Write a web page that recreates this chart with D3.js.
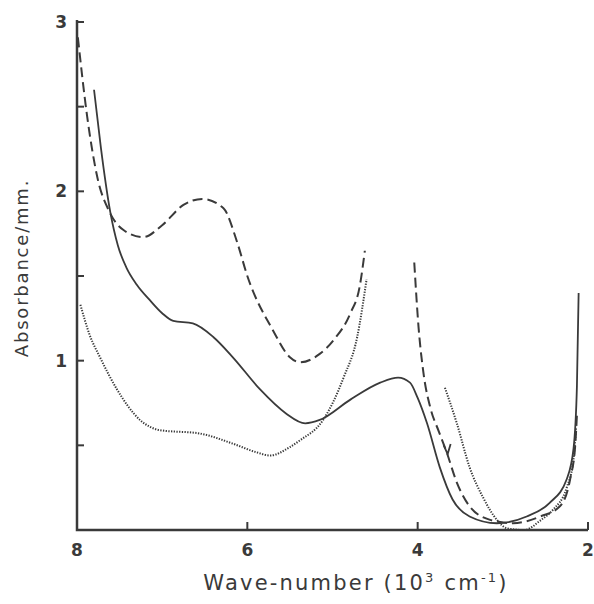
<!DOCTYPE html>
<html>
<head>
<meta charset="utf-8">
<script src="https://cdn.jsdelivr.net/npm/d3@7"></script>
<style>
  body { margin: 0; background: #fff; }
  text { font-family: "DejaVu Sans", sans-serif; fill: #3a3a3a; }
</style>
</head>
<body>
<div id="chart"></div>
<script>
// wave-number (10^3 cm^-1), absorbance/mm
const solid = [
  [7.80, 2.60], [7.72, 2.26], [7.61, 1.88], [7.52, 1.68], [7.42, 1.55], [7.30, 1.45],
  [7.15, 1.36], [7.00, 1.28], [6.87, 1.235], [6.64, 1.22], [6.40, 1.14], [6.17, 1.02],
  [5.85, 0.83], [5.55, 0.69], [5.32, 0.63], [5.15, 0.65], [4.79, 0.77], [4.44, 0.87],
  [4.23, 0.90], [4.09, 0.87], [4.00, 0.78], [3.89, 0.63], [3.74, 0.37], [3.59, 0.18],
  [3.39, 0.08], [3.07, 0.04], [2.72, 0.08], [2.45, 0.16], [2.25, 0.30], [2.17, 0.48],
  [2.13, 0.85], [2.11, 1.40]
];
const dashedA = [
  [7.99, 2.91], [7.88, 2.44], [7.76, 2.08], [7.62, 1.88], [7.45, 1.77], [7.22, 1.73],
  [7.00, 1.80], [6.75, 1.92], [6.53, 1.955], [6.28, 1.90], [6.12, 1.70], [6.00, 1.50],
  [5.70, 1.18], [5.50, 1.02], [5.38, 0.99], [5.15, 1.04], [4.99, 1.12], [4.79, 1.28],
  [4.68, 1.44], [4.62, 1.65]
];
const dashedB = [
  [4.04, 1.58], [3.99, 1.20], [3.93, 0.92], [3.85, 0.72], [3.75, 0.58], [3.66, 0.46],
  [3.54, 0.28], [3.39, 0.14], [3.15, 0.06], [2.88, 0.04], [2.56, 0.08], [2.33, 0.14],
  [2.21, 0.30], [2.15, 0.50], [2.13, 0.68]
];
const dottedA = [
  [7.96, 1.33], [7.85, 1.15], [7.73, 1.02], [7.53, 0.83], [7.26, 0.65], [7.03, 0.59],
  [6.56, 0.57], [6.17, 0.51], [5.90, 0.46], [5.73, 0.44], [5.50, 0.49], [5.38, 0.53],
  [5.11, 0.65], [4.87, 0.90], [4.71, 1.14], [4.60, 1.48]
];
const dottedB = [
  [3.68, 0.84], [3.54, 0.63], [3.39, 0.37], [3.23, 0.19], [3.07, 0.06], [2.95, 0.01],
  [2.75, 0.00], [2.55, 0.06], [2.41, 0.12], [2.25, 0.25], [2.17, 0.42], [2.14, 0.60]
];
const xTicks = [8, 6, 4, 2];
const yTicks = [1, 2, 3];
const yMinor = [0.5, 1, 1.5, 2, 2.5, 3];

const width = 594, height = 604;
const svg = d3.select("#chart").append("svg")
  .attr("width", width).attr("height", height);

const x = d3.scaleLinear().domain([8, 2]).range([77, 588]);
const y = d3.scaleLinear().domain([0, 3]).range([530, 22]);

const ink = "#3a3a3a";

// axes lines
svg.append("path")
  .attr("d", `M${x(8)},${y(3) - 2}V${y(0)}H${x(2)}`)
  .attr("fill", "none").attr("stroke", ink).attr("stroke-width", 2.5);

// inward ticks
svg.selectAll(".ytick").data(yMinor).join("line")
  .attr("x1", x(8)).attr("x2", x(8) + 7)
  .attr("y1", d => y(d)).attr("y2", d => y(d))
  .attr("stroke", ink).attr("stroke-width", 2);
svg.selectAll(".xtick").data(xTicks.slice(1)).join("line")
  .attr("x1", d => x(d)).attr("x2", d => x(d))
  .attr("y1", y(0)).attr("y2", y(0) - 8)
  .attr("stroke", ink).attr("stroke-width", 2);

// tick labels
svg.selectAll(".ylab").data(yTicks).join("text")
  .attr("x", x(8) - 10).attr("y", d => y(d) + 6)
  .attr("text-anchor", "end").attr("font-size", 17).attr("font-weight", "bold")
  .text(d => d);
svg.selectAll(".xlab").data(xTicks).join("text")
  .attr("x", d => x(d)).attr("y", y(0) + 26)
  .attr("text-anchor", "middle").attr("font-size", 17).attr("font-weight", "bold")
  .text(d => d);

// axis titles
svg.append("text")
  .attr("transform", `translate(28,268) rotate(-90)`)
  .attr("text-anchor", "middle").attr("font-size", 18).attr("letter-spacing", 1.8)
  .text("Absorbance/mm.");
const xt = svg.append("text")
  .attr("x", 356).attr("y", 590)
  .attr("text-anchor", "middle").attr("font-size", 21).attr("letter-spacing", 2.2);
xt.append("tspan").text("Wave-number (10");
xt.append("tspan").attr("font-size", 13).attr("dy", -8).text("3");
xt.append("tspan").attr("dy", 8).text(" cm");
xt.append("tspan").attr("font-size", 13).attr("dy", -8).text("-1");
xt.append("tspan").attr("dy", 8).text(")");

// curves
const line = d3.line().x(d => x(d[0])).y(d => y(d[1])).curve(d3.curveMonotoneX);
const series = [
  { data: solid, dash: null, w: 1.8 },
  { data: dashedA, dash: "10,5", w: 2 },
  { data: dashedB, dash: "10,5", w: 2 },
  { data: dottedA, dash: "1.3,1.4", w: 2 },
  { data: dottedB, dash: "1.3,1.4", w: 2 }
];
svg.selectAll(".curve").data(series).join("path")
  .attr("class", "curve")
  .attr("d", d => line(d.data))
  .attr("fill", "none").attr("stroke", ink)
  .attr("stroke-width", d => d.w)
  .attr("stroke-dasharray", d => d.dash);

// small arrowhead on dashed curve
const ax = x(3.66), ay = y(0.46);
svg.append("path")
  .attr("d", `M${ax - 3},${ay - 7}L${ax + 1},${ay + 2}L${ax + 4},${ay - 8}`)
  .attr("fill", "none").attr("stroke", ink).attr("stroke-width", 1.8);
</script>
</body>
</html>
